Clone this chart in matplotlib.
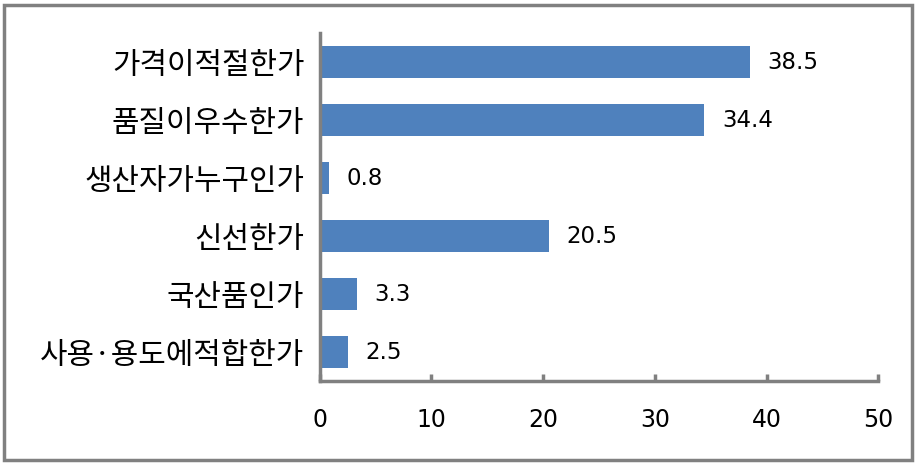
import matplotlib
matplotlib.use("Agg")
import matplotlib.pyplot as plt
from matplotlib.patches import Rectangle

plt.rcParams['font.family'] = ['Noto Sans CJK KR', 'DejaVu Sans']

# 데이터
categories = ["가격이적절한가", "품질이우수한가", "생산자가누구인가",
              "신선한가", "국산품인가", "사용·용도에적합한가"]
values = [38.5, 34.4, 0.8, 20.5, 3.3, 2.5]
xticks = [0, 10, 20, 30, 40, 50]

fig = plt.figure(figsize=(9.16, 4.66), dpi=100)
ax = fig.add_axes([0.349, 0.182, 0.61, 0.747])

ypos = list(range(len(categories)))[::-1]
ax.barh(ypos, values, height=0.55, color="#4F81BD")

num_font = ['DejaVu Sans']
for y, v in zip(ypos, values):
    ax.text(v + 1.6, y, f"{v}", va="center", ha="left", fontsize=16.5,
            color="black", family=num_font)

ax.set_xlim(0, 50)
ax.set_ylim(-0.5, len(categories) - 0.5)
ax.set_yticks(ypos)
ax.set_yticklabels(categories, fontsize=21.5)
ax.set_xticks(xticks)
ax.set_xticklabels([str(t) for t in xticks], fontsize=17, family=num_font)

ax.spines['top'].set_visible(False)
ax.spines['right'].set_visible(False)
for s in ['left', 'bottom']:
    ax.spines[s].set_color("#808080")
    ax.spines[s].set_linewidth(2.5)

ax.tick_params(axis='y', length=0, pad=11)
ax.tick_params(axis='x', direction='in', length=5, width=2.5, color="#808080", pad=19)

# 바깥 테두리
fig.patches.append(Rectangle((0.004, 0.013), 0.992, 0.976, transform=fig.transFigure,
                             fill=False, edgecolor="#808080", linewidth=2.5))

fig.savefig("out.png", dpi=100)
